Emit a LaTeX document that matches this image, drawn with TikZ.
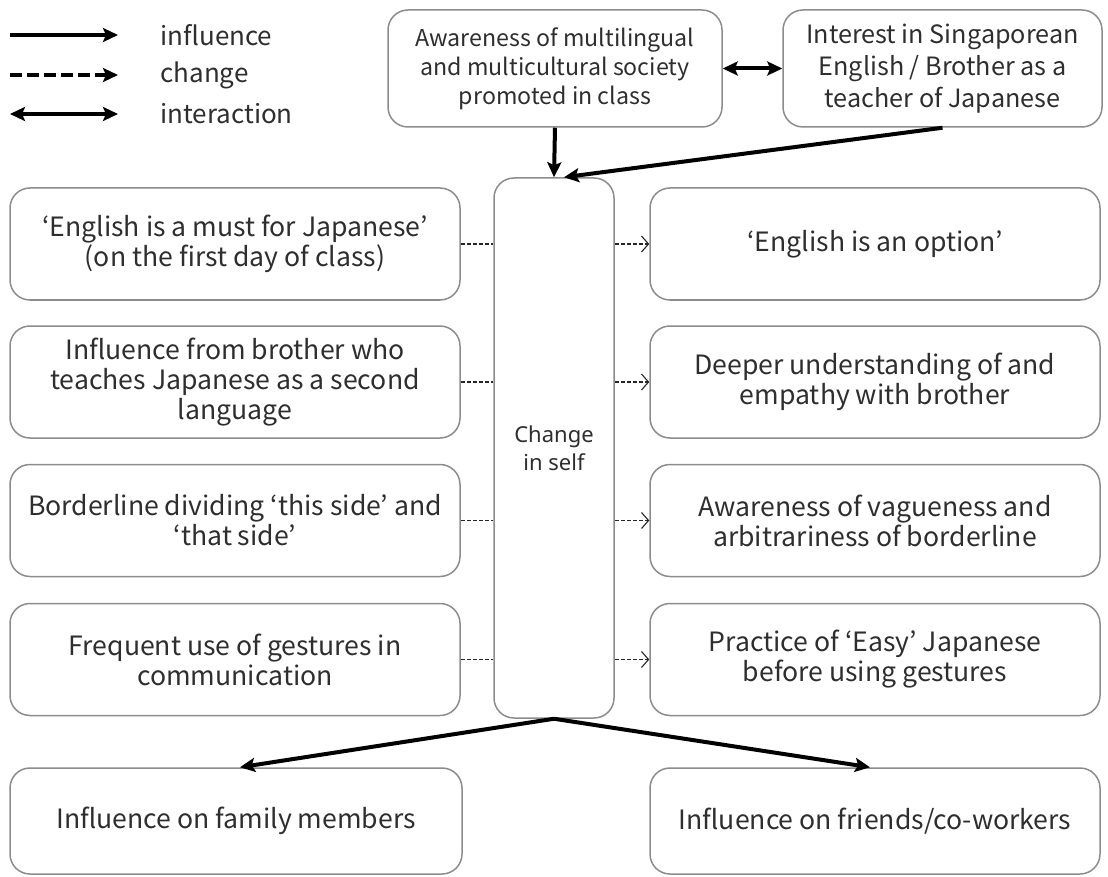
\documentclass[tikz,border=0pt]{standalone}
\usepackage{fontspec}
\setmainfont{Noto Sans CJK JP}
\newfontfamily\chfont{Noto Sans}
\usetikzlibrary{arrows.meta}
\definecolor{boxgray}{HTML}{8C8C8C}
\definecolor{txt}{HTML}{2E2E2E}
\begin{document}
\begin{tikzpicture}[x=0.5pt,y=-0.5pt,
  box/.style={draw=boxgray, line width=0.75pt, rounded corners=10pt, align=center,
    text=txt, font=\fontsize{13.3}{15}\selectfont, inner sep=0pt},
  sidebox/.style={box, minimum width=225pt, minimum height=56pt},
  infl/.style={line width=2pt, -{Stealth[length=7.5pt,width=7pt,inset=1.5pt]}},
  inter/.style={line width=2pt, {Stealth[length=7.5pt,width=7pt,inset=1.5pt]}-{Stealth[length=7.5pt,width=7pt,inset=1.5pt]}},
  chg/.style={dash pattern=on 2pt off 1pt, line width=0.55pt, draw=black!85},
  chga/.style={chg, -{Straight Barb[length=3.5pt,width=8pt]}},
  legtext/.style={anchor=west, text=txt, font=\fontsize{13}{15}\selectfont, inner sep=0pt}]
\useasboundingbox (0,0) rectangle (1108,877);

% legend
\coordinate (la1) at (10,35);  \coordinate (la2) at (118,35);
\coordinate (lb1) at (10,75);  \coordinate (lb2) at (118,75);
\coordinate (lc1) at (10,114); \coordinate (lc2) at (118,114);
\draw[infl] (la1) -- (la2);
\draw[line width=2pt, dash pattern=on 6pt off 2.5pt, -{Stealth[length=7.5pt,width=7pt,inset=1.5pt]}] (lb1) -- (lb2);
\draw[inter] (lc1) -- (lc2);
\node[legtext] (t1) at (160,35) {influence};
\node[legtext] (t2) at (160,75) {change};
\node[legtext] (t3) at (160,114) {interaction};

% top boxes
\node[box, minimum width=167pt, minimum height=58.5pt, font=\fontsize{11.6}{14.5}\selectfont] (A) at (555,68.5)
  {Awareness of multilingual\\and multicultural society\\promoted in class};
\node[box, minimum width=159.5pt, minimum height=58.5pt, font=\fontsize{12.6}{16}\selectfont] (B) at (942.5,68.5)
  {Interest in Singaporean\\English / Brother as a\\teacher of Japanese};

% centre
\node[box, minimum width=60pt, minimum height=270pt, font=\chfont\fontsize{11}{14}\selectfont] (C) at (554,448)
  {Change\\in self};

% left column
\node[sidebox] (L1) at (235,244)   {‘English is a must for Japanese’\\(on the first day of class)};
\node[sidebox] (L2) at (235,382)   {Influence from brother who\\teaches Japanese as a second\\language};
\node[sidebox] (L3) at (235,520.5) {Borderline dividing ‘this side’ and\\‘that side’};
\node[sidebox] (L4) at (235,659.5) {Frequent use of gestures in\\communication};

% right column
\node[sidebox] (R1) at (875,244)   {‘English is an option’};
\node[sidebox] (R2) at (875,382)   {Deeper understanding of and\\empathy with brother};
\node[sidebox] (R3) at (875,520.5) {Awareness of vagueness and\\arbitrariness of borderline};
\node[sidebox] (R4) at (875,659.5) {Practice of ‘Easy’ Japanese\\before using gestures};

% bottom
\node[box, minimum width=226pt, minimum height=53pt] (BL) at (236,821) {Influence on family members};
\node[box, minimum width=225pt, minimum height=53pt] (BR) at (875,821) {Influence on friends/co-workers};

% connectors
\draw[inter] (A.east) -- (B.west);
\draw[infl] (A.south) -- (C.north);
\draw[infl] (B.south) -- ([xshift=5pt]C.north);
\foreach \i in {1,2,3,4}{
  \draw[chg] (L\i.east) -- (L\i.east -| C.west);
  \draw[chga] (C.east |- R\i.west) -- (R\i.west);
}
\draw[infl] (C.south) -- ([xshift=2pt]BL.north);
\draw[infl] (C.south) -- ([xshift=-2.5pt]BR.north);
\end{tikzpicture}
\end{document}
